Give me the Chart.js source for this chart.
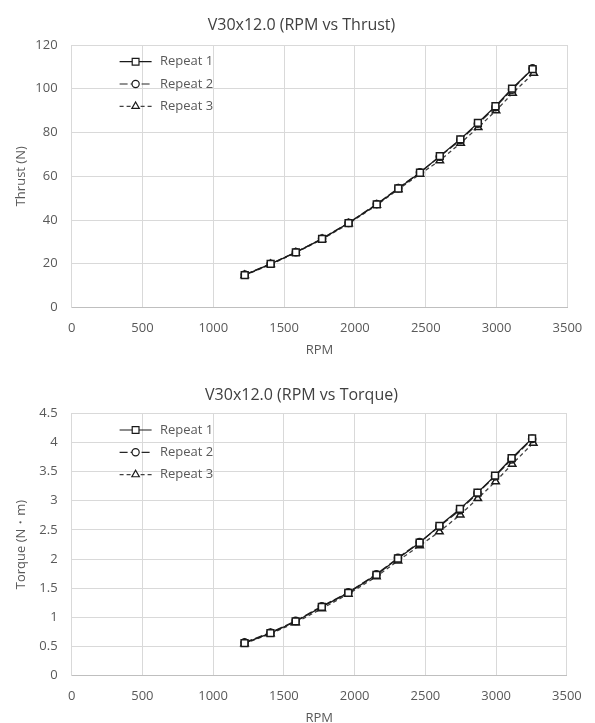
<!DOCTYPE html>
<html>
<head>
<meta charset="utf-8">
<script src="https://cdn.jsdelivr.net/npm/chart.js@4.4.1/dist/chart.umd.min.js"></script>
<style>
  body { margin: 0; background: #fff; overflow: hidden; }
  .panel { position: absolute; left: 0; width: 595px; }
</style>
</head>
<body>
<div class="panel" style="top:0"><canvas id="thrustChart" width="595" height="363"></canvas></div>
<div class="panel" style="top:365px"><canvas id="torqueChart" width="595" height="363"></canvas></div>
<script>
// Propeller V30x12.0 bench runs, three repeats
const rpm = [1222, 1405, 1583, 1768, 1955, 2154, 2306, 2459, 2599, 2744, 2868, 2992, 3109, 3254];
const rpm3 = [1222, 1405, 1583, 1768, 1955, 2154, 2306, 2459, 2599, 2746, 2870, 2996, 3113, 3262];

const thrust1 = [14.8, 19.9, 25.2, 31.4, 38.6, 47.1, 54.4, 61.6, 69.2, 76.9, 84.4, 92.0, 100.1, 109.0];
const thrust2 = [15.0, 20.0, 25.3, 31.5, 38.7, 47.3, 54.6, 61.8, 69.0, 76.6, 84.0, 91.6, 99.6, 109.3];
const thrust3 = [14.7, 19.7, 25.0, 31.2, 38.3, 46.8, 54.0, 61.0, 67.2, 75.2, 82.3, 90.0, 98.0, 107.2];

const torque1 = [0.56, 0.73, 0.93, 1.18, 1.42, 1.73, 2.01, 2.28, 2.57, 2.86, 3.14, 3.43, 3.73, 4.07];
const torque2 = [0.57, 0.74, 0.94, 1.19, 1.43, 1.74, 2.02, 2.29, 2.56, 2.84, 3.13, 3.42, 3.71, 4.06];
const torque3 = [0.55, 0.72, 0.91, 1.15, 1.40, 1.70, 1.97, 2.23, 2.47, 2.76, 3.04, 3.33, 3.63, 3.99];

const seriesNames = ['Repeat 1', 'Repeat 2', 'Repeat 3'];
const rpmTicks = { min: 0, max: 3500, step: 500 };
const thrustTicks = { min: 0, max: 120, step: 20 };
const torqueTicks = { min: 0, max: 4.5, step: 0.5 };

const FONT = '"Open Sans", "Noto Sans", sans-serif';
const TEXT = '#595959';
const GRID = '#d9d9d9';

const lineStyles = [
  { color: '#1a1a1a', dash: [], point: 'rect', radius: 4.8 },
  { color: '#262626', dash: [8, 3], point: 'circle', radius: 3.6 },
  { color: '#404040', dash: [4, 3], point: 'triangle', radius: 4.3 }
];

function toPoints(xs, ys) {
  return xs.map((x, i) => ({ x: x, y: ys[i] }));
}

// Excel-style legend sitting inside the plot area, top left
const insideLegend = {
  id: 'insideLegend',
  afterDatasetsDraw(chart) {
    const { ctx, chartArea } = chart;
    ctx.save();
    chart.data.datasets.forEach((ds, i) => {
      const y = chartArea.top + 16.7 + i * 22.3;
      const x0 = chartArea.left + 48;
      ctx.strokeStyle = ds.borderColor;
      ctx.lineWidth = 1.2;
      ctx.setLineDash(ds.borderDash);
      ctx.beginPath();
      ctx.moveTo(x0, y);
      ctx.lineTo(x0 + 32, y);
      ctx.stroke();
      ctx.setLineDash([]);
      ctx.fillStyle = '#fff';
      ctx.strokeStyle = ds.pointBorderColor;
      Chart.helpers.drawPoint(ctx, { pointStyle: ds.pointStyle, radius: ds.pointRadius, borderWidth: 1, rotation: 0 }, x0 + 16, y);
      ctx.fillStyle = TEXT;
      ctx.font = '13px ' + FONT;
      ctx.textBaseline = 'middle';
      ctx.textAlign = 'left';
      ctx.fillText(ds.label, chartArea.left + 88.4, y);
    });
    ctx.restore();
  }
};

// the chart title is centred on the whole figure, not on the plot area
const titleCentre = {
  id: 'titleCentre',
  afterLayout(chart, args, opts) {
    if (chart.titleBlock) {
      chart.titleBlock.left = opts.left;
      chart.titleBlock.right = opts.right;
    }
  }
};

function buildChart(id, title, yTitle, ySeries, yTicks, box) {
  const xs = [rpm, rpm, rpm3];
  const datasets = ySeries.map((ys, i) => {
    const st = lineStyles[i];
    return {
      label: seriesNames[i],
      data: toPoints(xs[i], ys),
      borderColor: st.color,
      borderWidth: 1.3,
      borderDash: st.dash,
      pointStyle: st.point,
      pointRadius: st.radius,
      pointBackgroundColor: '#fff',
      pointBorderColor: '#1a1a1a',
      pointBorderWidth: 1.5,
      tension: 0,
      fill: false
    };
  });

  return new Chart(document.getElementById(id), {
    type: 'line',
    data: { datasets: datasets },
    plugins: [insideLegend, titleCentre],
    options: {
      responsive: false,
      animation: false,
      layout: { padding: { left: 0, right: 25, top: 0, bottom: 0 } },
      scales: {
        x: {
          type: 'linear',
          min: rpmTicks.min,
          max: rpmTicks.max,
          afterFit: (s) => { s.height = box.xHeight; },
          ticks: {
            stepSize: rpmTicks.step,
            padding: box.xTickPad,
            color: TEXT,
            font: { family: FONT, size: 13 },
            maxRotation: 0,
            callback: (v) => String(v)
          },
          grid: { color: GRID, drawTicks: false },
          border: { color: '#bfbfbf' },
          title: {
            display: true,
            text: 'RPM',
            color: TEXT,
            font: { family: FONT, size: 13 },
            padding: { top: 0, bottom: box.xTitlePad }
          }
        },
        y: {
          min: yTicks.min,
          max: yTicks.max,
          afterFit: (s) => { s.width = 71.6; },
          ticks: {
            stepSize: yTicks.step,
            padding: 14,
            color: TEXT,
            font: { family: FONT, size: 13 },
            callback: (v) => String(v)
          },
          grid: { color: GRID, drawTicks: false },
          border: { color: GRID },
          title: {
            display: true,
            text: yTitle,
            color: TEXT,
            font: { family: FONT, size: 13 },
            padding: { top: 13.9, bottom: 0 }
          }
        }
      },
      plugins: {
        legend: { display: false },
        tooltip: { enabled: false },
        title: {
          display: true,
          text: title,
          color: '#404040',
          font: { family: FONT, size: 16, weight: 'normal' },
          padding: { top: box.titleTop, bottom: box.titleBottom }
        },
        titleCentre: { left: 0, right: 603 }
      }
    }
  });
}

buildChart('thrustChart', 'V30x12.0 (RPM vs Thrust)', 'Thrust (N)',
  [thrust1, thrust2, thrust3], thrustTicks,
  { titleTop: 15.4, titleBottom: 10.4, xHeight: 55.5, xTickPad: 12.7, xTitlePad: 5.2 });

buildChart('torqueChart', 'V30x12.0 (RPM vs Torque)', 'Torque (N・m)',
  [torque1, torque2, torque3], torqueTicks,
  { titleTop: 20.4, titleBottom: 8.7, xHeight: 52.3, xTickPad: 13.2, xTitlePad: 2.2 });
</script>
</body>
</html>
